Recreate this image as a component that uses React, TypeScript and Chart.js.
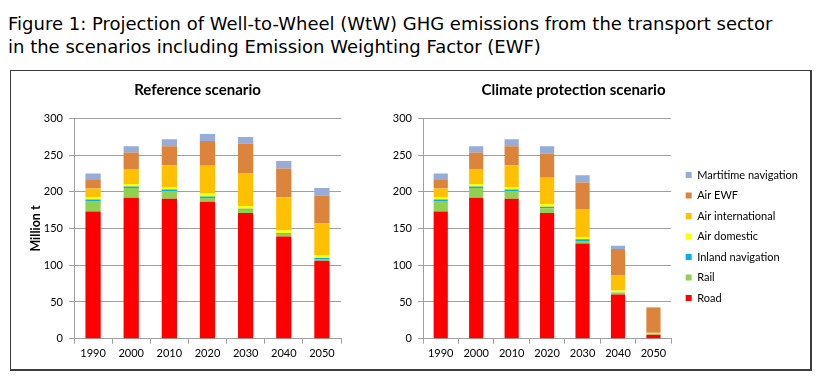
import React, { useEffect, useRef } from 'react';
import { Chart, registerables } from 'chart.js';

Chart.register(...registerables);

// ---------- data ----------
const categories = ['1990', '2000', '2010', '2020', '2030', '2040', '2050'];

const seriesNames = [
  'Road',
  'Rail',
  'Inland navigation',
  'Air domestic',
  'Air international',
  'Air EWF',
  'Martitime navigation',
];
const seriesColors = ['#FF0000', '#92D050', '#00B0F0', '#FFFF00', '#FFC000', '#DC843C', '#95ADD8'];

// Reference scenario (Million t)
const refRoad = [173, 192, 190.5, 186.5, 171, 139, 106];
const refRail = [14.5, 13, 10.5, 5, 4.5, 3.5, 2.5];
const refInland = [2, 2, 2, 2, 1.5, 1, 1.5];
const refAirDomestic = [3, 3.5, 3, 4.5, 3.5, 4, 3.5];
const refAirInternational = [12, 20.5, 30, 37.5, 45, 45, 43.5];
const refAirEwf = [11.5, 22.5, 26, 33.5, 40, 39, 38];
const refMaritime = [9, 8.5, 9.5, 9.5, 9, 10.5, 10];

// Climate protection scenario (Million t)
const cpRoad = [173, 192, 190.5, 171, 129.5, 60, 5.5];
const cpRail = [14.5, 13, 10.5, 6.5, 3.5, 2.5, 0.5];
const cpInland = [2, 2, 2, 2, 2.5, 0.5, 0.2];
const cpAirDomestic = [3, 3.5, 3, 4, 3, 2.5, 1.5];
const cpAirInternational = [12, 20.5, 30, 35.5, 38, 20.5, 0.5];
const cpAirEwf = [11.5, 22.5, 26, 33, 36, 36, 33.5];
const cpMaritime = [9, 8.5, 9.5, 10, 10, 4.5, 1];

const yMin = 0;
const yMax = 300;
const yStep = 50;

const titleLines = [
  'Figure 1: Projection of Well-to-Wheel (WtW) GHG emissions from the transport sector',
  'in the scenarios including Emission Weighting Factor (EWF)',
];

const GRID = '#A0A0A0';
const FONT = 'Lato, "Open Sans", sans-serif';

function makeDatasets(series: number[][]) {
  return series.map((values, i) => ({
    label: seriesNames[i],
    data: values,
    backgroundColor: seriesColors[i],
    borderWidth: 0,
    categoryPercentage: 0.8,
    barPercentage: 0.5,
  }));
}

function spacerAxis(width: number) {
  return {
    position: 'right',
    display: true,
    grid: { display: false },
    border: { display: false },
    ticks: { display: false },
    afterFit: (s: any) => {
      s.width = width;
    },
  };
}

function baseScales(yWidth: number, withTitle: boolean, rightSpace: number) {
  return {
    x: {
      stacked: true,
      grid: {
        display: true,
        drawOnChartArea: false,
        drawTicks: true,
        tickLength: 5,
        color: GRID,
        offset: true,
      },
      border: { display: true, color: GRID },
      ticks: { color: '#000', font: { size: 11, family: FONT }, padding: 3, maxRotation: 0 },
      afterFit: (s: any) => {
        s.height = 29.3;
      },
    },
    y: {
      stacked: true,
      min: yMin,
      max: yMax,
      ticks: { stepSize: yStep, color: '#000', font: { size: 11, family: FONT }, padding: 6 },
      grid: { color: GRID, tickLength: 5 },
      border: { display: true, color: GRID },
      title: {
        display: withTitle,
        text: 'Million t',
        color: '#000',
        font: { size: 12.5, weight: 'bold', family: FONT },
        padding: { top: 14, bottom: 0 },
      },
      afterFit: (s: any) => {
        s.width = yWidth;
      },
    },
    y2: spacerAxis(rightSpace),
  } as any;
}

function chartTitle(text: string) {
  return {
    display: true,
    text,
    color: '#000',
    font: { size: 15, weight: 'bold', family: FONT },
    padding: { top: 9, bottom: 19.3 },
  };
}

function ChartCanvas({ config, left, top, width, height }: any) {
  const ref = useRef<HTMLCanvasElement>(null);
  useEffect(() => {
    if (!ref.current) return;
    const chart = new Chart(ref.current, config);
    return () => chart.destroy();
  }, []);
  return (
    <canvas
      ref={ref}
      width={width}
      height={height}
      style={{ position: 'absolute', left, top, width, height }}
    />
  );
}

export default function App() {
  const leftConfig: any = {
    type: 'bar',
    data: {
      labels: categories,
      datasets: makeDatasets([
        refRoad,
        refRail,
        refInland,
        refAirDomestic,
        refAirInternational,
        refAirEwf,
        refMaritime,
      ]),
    },
    options: {
      animation: false,
      responsive: false,
      maintainAspectRatio: false,
      layout: { padding: 0 },
      plugins: {
        legend: { display: false },
        tooltip: { enabled: false },
        title: chartTitle('Reference scenario'),
      },
      scales: baseScales(60, true, 40),
    },
  };

  const rightConfig: any = {
    type: 'bar',
    data: {
      labels: categories,
      datasets: makeDatasets([
        cpRoad,
        cpRail,
        cpInland,
        cpAirDomestic,
        cpAirInternational,
        cpAirEwf,
        cpMaritime,
      ]),
    },
    options: {
      animation: false,
      responsive: false,
      maintainAspectRatio: false,
      layout: { padding: 0 },
      plugins: {
        tooltip: { enabled: false },
        title: chartTitle('Climate protection scenario'),
        legend: {
          display: true,
          position: 'right',
          align: 'start',
          reverse: true,
          maxWidth: 132,
          title: {
            display: true,
            text: ' ',
            font: { size: 10, family: FONT },
            padding: { top: 76, bottom: 0 },
          },
          labels: {
            boxWidth: 6,
            boxHeight: 6,
            padding: 9.5,
            color: '#000',
            font: { size: 11, family: FONT },
          },
        },
      },
      scales: baseScales(84, false, 5),
    },
  };

  return (
    <>
      <div
        style={{
          position: 'absolute',
          left: 8,
          top: 12,
          fontFamily: '"DejaVu Sans", Verdana, sans-serif',
          fontSize: 18,
          lineHeight: '23px',
          color: '#000',
          whiteSpace: 'nowrap',
        }}
      >
        {titleLines.map((l) => (
          <div key={l}>{l}</div>
        ))}
      </div>
      <div
        style={{
          position: 'absolute',
          left: 10,
          top: 70,
          width: 802,
          height: 301,
          boxSizing: 'border-box',
          borderLeft: '1px solid #3C3C3C',
          borderTop: '1px solid #3C3C3C',
          borderRight: '2px solid #3C3C3C',
          borderBottom: '2px solid #3C3C3C',
          background: '#fff',
        }}
      />
      <ChartCanvas config={leftConfig} left={14} top={72} width={367} height={296} />
      <ChartCanvas config={rightConfig} left={339} top={72} width={469} height={296} />
    </>
  );
}
